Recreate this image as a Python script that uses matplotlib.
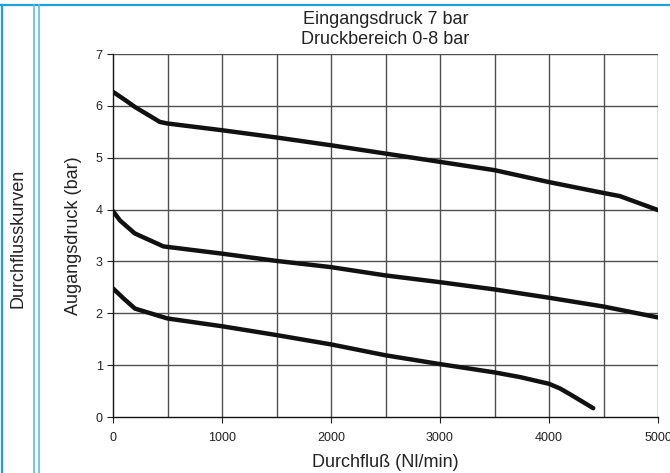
import matplotlib
matplotlib.use("Agg")
import matplotlib.pyplot as plt
from matplotlib.lines import Line2D

plt.rcParams['font.family'] = ['Liberation Sans', 'DejaVu Sans']

# Kurven: Durchfluss (Nl/min) -> Ausgangsdruck (bar)
flow_top = [0, 120, 200, 430, 500, 1000, 1500, 2000, 2500, 3000, 3500, 4000, 4500, 4650, 5000]
p_top = [6.27, 6.10, 5.98, 5.69, 5.66, 5.53, 5.39, 5.24, 5.08, 4.92, 4.76, 4.53, 4.32, 4.26, 3.99]

flow_mid = [0, 64, 200, 462, 1000, 1500, 2000, 2500, 3000, 3500, 4000, 4500, 5000]
p_mid = [3.97, 3.79, 3.54, 3.29, 3.15, 3.01, 2.89, 2.73, 2.60, 2.46, 2.30, 2.13, 1.92]

flow_low = [0, 100, 202, 500, 1000, 1500, 2000, 2500, 3000, 3500, 3734, 4000, 4101, 4208, 4406]
p_low = [2.48, 2.28, 2.09, 1.90, 1.75, 1.58, 1.40, 1.19, 1.02, 0.86, 0.77, 0.64, 0.55, 0.42, 0.17]

x_ticks = [0, 1000, 2000, 3000, 4000, 5000]
y_ticks = [0, 1, 2, 3, 4, 5, 6, 7]

fig = plt.figure(figsize=(6.7, 4.73), dpi=100)
ax = fig.add_axes([113/670, 1-417/473, 545/670, 363/473])

for x in range(500, 5001, 500):
    ax.axvline(x, color='#505050', lw=1.0, zorder=1)
for y in range(1, 8):
    ax.axhline(y, color='#505050', lw=1.0, zorder=1)

for fx, py in [(flow_top, p_top), (flow_mid, p_mid), (flow_low, p_low)]:
    ax.plot(fx, py, color='#111111', lw=3.2, solid_capstyle='round',
            solid_joinstyle='round', zorder=3)

ax.set_xlim(0, 5000)
ax.set_ylim(0, 7)
ax.set_xticks(x_ticks)
ax.set_yticks(y_ticks)
ax.tick_params(labelsize=9, length=4, width=0.8, direction='out', colors='#222222')
ax.tick_params(axis='x', pad=7)
for s in ['top', 'right']:
    ax.spines[s].set_visible(False)
for s in ['left', 'bottom']:
    ax.spines[s].set_color('#111111')
    ax.spines[s].set_linewidth(1.0)

ax.set_xlabel('Durchfluß (Nl/min)', fontsize=13, color='#222222', labelpad=7)
ax.set_ylabel('Augangsdruck (bar)', fontsize=13, color='#222222', labelpad=10)

fig.text(385.5/670, 1-19/473, 'Eingangsdruck 7 bar', ha='center', va='center',
         fontsize=13, color='#222222')
fig.text(385.5/670, 1-40/473, 'Druckbereich 0-8 bar', ha='center', va='center',
         fontsize=13, color='#222222')
fig.text(18/670, 1-238/473, 'Durchflusskurven', rotation=90, ha='center', va='center',
         fontsize=13, color='#222222')

# blauer Rahmen
fig.add_artist(Line2D([0, 1], [1-5/473, 1-5/473], color='#1ba1db', lw=1.6, transform=fig.transFigure))
fig.add_artist(Line2D([2/670, 2/670], [0, 1-5/473], color='#1ba1db', lw=1.6, transform=fig.transFigure))
for xp in [34, 39]:
    fig.add_artist(Line2D([xp/670, xp/670], [0, 1-5/473], color='#5bbde6', lw=1.2,
                          transform=fig.transFigure))

fig.savefig('out.png', dpi=100)
